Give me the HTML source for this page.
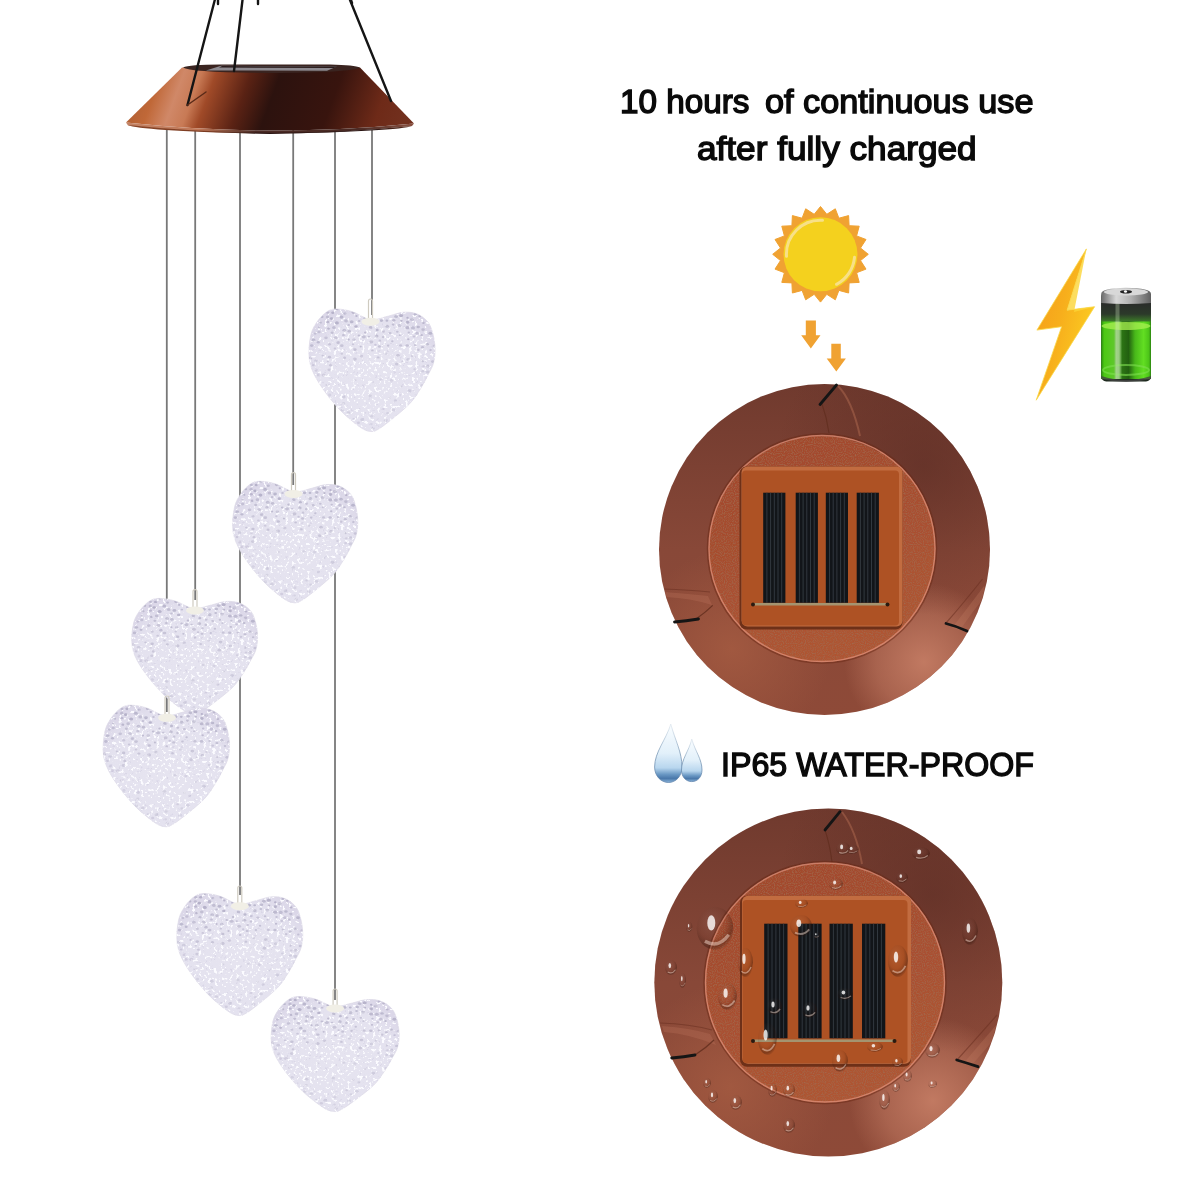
<!DOCTYPE html>
<html><head><meta charset="utf-8">
<style>
html,body{margin:0;padding:0;background:#fff;width:1200px;height:1200px;overflow:hidden}
#c{position:absolute;left:0;top:0}
.t{position:absolute;font-family:"Liberation Sans",sans-serif;color:#0a0a0a;white-space:nowrap;line-height:1}
</style></head><body>
<svg id="c" width="1200" height="1200" viewBox="0 0 1200 1200">
<defs>
  <linearGradient id="shade" gradientUnits="userSpaceOnUse" x1="120" y1="95" x2="378.7" y2="190.4">
    <stop offset="0" stop-color="#a85a30"/>
    <stop offset="0.115" stop-color="#c06838"/>
    <stop offset="0.19" stop-color="#d08868"/>
    <stop offset="0.25" stop-color="#c87a55"/>
    <stop offset="0.30" stop-color="#a04a28"/>
    <stop offset="0.42" stop-color="#5a2214"/>
    <stop offset="0.52" stop-color="#2c120e"/>
    <stop offset="0.73" stop-color="#38140e"/>
    <stop offset="0.90" stop-color="#6e2a18"/>
    <stop offset="1" stop-color="#72301e"/>
  </linearGradient>
  <path id="hp" d="M62.0 10.7 C68.2 11.3 75.3 7.9 80.7 6.7 C86.0 5.4 89.6 3.7 94.0 3.3 C98.4 3.0 103.3 3.2 107.3 4.7 C111.3 6.1 115.3 9.0 118.0 12.0 C120.7 15.0 122.0 18.2 123.3 22.7 C124.7 27.1 125.8 33.6 126.0 38.7 C126.2 43.8 125.8 48.9 124.7 53.3 C123.6 57.8 121.6 60.9 119.3 65.3 C117.1 69.8 114.4 75.1 111.3 80.0 C108.2 84.9 105.8 89.3 100.7 94.7 C95.6 100.0 86.2 107.6 80.7 112.0 C75.1 116.4 70.9 119.7 67.3 121.3 C63.8 123.0 62.2 122.7 59.3 122.0 C56.4 121.3 54.7 120.8 50.0 117.3 C45.3 113.9 37.3 107.6 31.3 101.3 C25.3 95.1 18.7 86.7 14.0 80.0 C9.3 73.3 5.7 67.1 3.3 61.3 C1.0 55.6 0.2 51.3 0.0 45.3 C-0.2 39.3 0.6 30.9 2.0 25.3 C3.4 19.8 6.0 15.8 8.7 12.0 C11.3 8.2 14.9 4.7 18.0 2.7 C21.1 0.7 23.1 0.0 27.3 0.0 C31.6 0.0 37.6 0.9 43.3 2.7 C49.1 4.4 55.8 10.0 62.0 10.7 Z"/>
  <radialGradient id="hg" cx="0.5" cy="0.55" r="0.6">
    <stop offset="0" stop-color="#e6e4f0"/>
    <stop offset="0.75" stop-color="#e4e2ef"/>
    <stop offset="1" stop-color="#dbd7e8"/>
  </radialGradient>
  <filter id="tex" x="-5%" y="-5%" width="110%" height="110%">
    <feTurbulence type="fractalNoise" baseFrequency="0.32" numOctaves="2" seed="7" result="n"/>
    <feColorMatrix in="n" type="matrix" values="0 0 0 0 0.70  0 0 0 0 0.68  0 0 0 0 0.80  10 0 0 0 -6.6" result="dots"/>
    <feColorMatrix in="n" type="matrix" values="0 0 0 0 0.97  0 0 0 0 0.97  0 0 0 0 1  0 10 0 0 -5.9" result="spark"/>
    <feComposite in="dots" in2="SourceGraphic" operator="in" result="d2"/>
    <feComposite in="spark" in2="SourceGraphic" operator="in" result="s2"/>
    <feMerge><feMergeNode in="SourceGraphic"/><feMergeNode in="d2"/><feMergeNode in="s2"/></feMerge>
  </filter>
  <linearGradient id="ring1" x1="0.5" y1="0" x2="0.5" y2="1">
    <stop offset="0" stop-color="#703a2e"/>
    <stop offset="0.5" stop-color="#884838"/>
    <stop offset="1" stop-color="#8e4a38"/>
  </linearGradient>
  <radialGradient id="ringHi" cx="0.8" cy="0.84" r="0.24">
    <stop offset="0" stop-color="#c47c64" stop-opacity="0.95"/>
    <stop offset="0.6" stop-color="#c47c64" stop-opacity="0.5"/>
    <stop offset="1" stop-color="#c47c64" stop-opacity="0"/>
  </radialGradient>
  <radialGradient id="ringHi2" cx="0.22" cy="0.8" r="0.3">
    <stop offset="0" stop-color="#a65c42" stop-opacity="0.8"/>
    <stop offset="1" stop-color="#a65c42" stop-opacity="0"/>
  </radialGradient>
  <radialGradient id="ringDk" cx="0.8" cy="0.25" r="0.45">
    <stop offset="0" stop-color="#5a2c24" stop-opacity="0.6"/>
    <stop offset="1" stop-color="#5a2c24" stop-opacity="0"/>
  </radialGradient>
  <linearGradient id="inner1" x1="0.3" y1="0" x2="0.7" y2="1">
    <stop offset="0" stop-color="#a2482c"/>
    <stop offset="1" stop-color="#b05634"/>
  </linearGradient>
  <linearGradient id="bolt" x1="0" y1="0" x2="1" y2="0.6">
    <stop offset="0" stop-color="#f59a1a"/>
    <stop offset="0.5" stop-color="#f7ae1c"/>
    <stop offset="1" stop-color="#fccf22"/>
  </linearGradient>
  <linearGradient id="liquid" x1="0" y1="0" x2="1" y2="0">
    <stop offset="0" stop-color="#2a8a10"/>
    <stop offset="0.06" stop-color="#4cc814"/>
    <stop offset="0.25" stop-color="#5ec82a"/>
    <stop offset="0.3" stop-color="#8cc870"/>
    <stop offset="0.38" stop-color="#7ab860"/>
    <stop offset="0.42" stop-color="#2c7414"/>
    <stop offset="0.55" stop-color="#226010"/>
    <stop offset="0.68" stop-color="#48b81a"/>
    <stop offset="0.85" stop-color="#62de22"/>
    <stop offset="0.96" stop-color="#4cc418"/>
    <stop offset="1" stop-color="#2a8010"/>
  </linearGradient>
  <linearGradient id="glass" x1="0" y1="0" x2="0" y2="1">
    <stop offset="0" stop-color="#2a2c2a"/>
    <stop offset="0.6" stop-color="#2c3a2a"/>
    <stop offset="1" stop-color="#3c7a28"/>
  </linearGradient>
  <linearGradient id="cap" x1="0" y1="0" x2="1" y2="0">
    <stop offset="0" stop-color="#6a6a6a"/>
    <stop offset="0.3" stop-color="#d8d8d8"/>
    <stop offset="0.6" stop-color="#b0b0b0"/>
    <stop offset="1" stop-color="#606060"/>
  </linearGradient>
  <linearGradient id="drop" x1="0" y1="0" x2="0" y2="1">
    <stop offset="0" stop-color="#fafdff"/>
    <stop offset="0.5" stop-color="#e2f0fa"/>
    <stop offset="0.75" stop-color="#b8d6ee"/>
    <stop offset="0.86" stop-color="#6a98c4"/>
    <stop offset="0.93" stop-color="#4a78aa"/>
    <stop offset="1" stop-color="#8ab4da"/>
  </linearGradient>
  <linearGradient id="dropS" x1="0" y1="0" x2="0" y2="1">
    <stop offset="0" stop-color="#8aa6c0" stop-opacity="0.2"/>
    <stop offset="0.5" stop-color="#6f8fae" stop-opacity="0.9"/>
    <stop offset="1" stop-color="#5a7ea8" stop-opacity="0.9"/>
  </linearGradient>
  <clipPath id="clipC1"><circle cx="824.5" cy="549.5" r="165"/></clipPath>
  <clipPath id="clipC2"><circle cx="828.3" cy="982.5" r="173.5"/></clipPath>
  <clipPath id="hclip"><use href="#hp"/></clipPath>
  <g id="hdots"><ellipse cx="114.4" cy="13.9" rx="1.3" ry="1.1" fill="#a9a5bf" opacity="0.65"/><ellipse cx="17.6" cy="75.9" rx="1.1" ry="0.9" fill="#a9a5bf" opacity="0.34"/><ellipse cx="18.5" cy="8.0" rx="1.6" ry="1.3" fill="#a9a5bf" opacity="0.56"/><ellipse cx="46.5" cy="71.2" rx="1.1" ry="0.9" fill="#a9a5bf" opacity="0.26"/><ellipse cx="121.3" cy="24.2" rx="1.9" ry="1.5" fill="#a9a5bf" opacity="0.67"/><ellipse cx="98.5" cy="13.3" rx="1.8" ry="1.5" fill="#a9a5bf" opacity="0.72"/><ellipse cx="22.5" cy="9.6" rx="1.7" ry="1.4" fill="#a9a5bf" opacity="0.78"/><ellipse cx="63.4" cy="41.6" rx="1.3" ry="1.1" fill="#a9a5bf" opacity="0.52"/><ellipse cx="82.5" cy="71.4" rx="1.6" ry="1.3" fill="#a9a5bf" opacity="0.27"/><ellipse cx="80.9" cy="88.6" rx="1.2" ry="1.0" fill="#a9a5bf" opacity="0.29"/><ellipse cx="59.9" cy="27.8" rx="1.2" ry="1.0" fill="#a9a5bf" opacity="0.52"/><ellipse cx="23.1" cy="23.8" rx="1.5" ry="1.2" fill="#a9a5bf" opacity="0.55"/><ellipse cx="77.9" cy="11.7" rx="1.4" ry="1.1" fill="#a9a5bf" opacity="0.67"/><ellipse cx="46.9" cy="17.5" rx="1.6" ry="1.3" fill="#a9a5bf" opacity="0.72"/><ellipse cx="44.6" cy="109.9" rx="1.2" ry="1.0" fill="#a9a5bf" opacity="0.30"/><ellipse cx="78.1" cy="17.3" rx="1.9" ry="1.5" fill="#a9a5bf" opacity="0.59"/><ellipse cx="54.8" cy="27.8" rx="2.0" ry="1.6" fill="#a9a5bf" opacity="0.53"/><ellipse cx="99.3" cy="30.2" rx="1.2" ry="1.0" fill="#a9a5bf" opacity="0.63"/><ellipse cx="4.6" cy="31.0" rx="1.9" ry="1.5" fill="#a9a5bf" opacity="0.61"/><ellipse cx="108.2" cy="24.2" rx="1.8" ry="1.5" fill="#a9a5bf" opacity="0.49"/><ellipse cx="74.4" cy="99.9" rx="1.3" ry="1.0" fill="#a9a5bf" opacity="0.33"/><ellipse cx="100.6" cy="81.6" rx="1.8" ry="1.4" fill="#a9a5bf" opacity="0.35"/><ellipse cx="90.5" cy="16.6" rx="1.9" ry="1.5" fill="#a9a5bf" opacity="0.55"/><ellipse cx="13.7" cy="46.6" rx="1.2" ry="0.9" fill="#a9a5bf" opacity="0.45"/><ellipse cx="47.5" cy="6.9" rx="1.2" ry="1.0" fill="#a9a5bf" opacity="0.71"/><ellipse cx="17.0" cy="28.8" rx="1.8" ry="1.4" fill="#a9a5bf" opacity="0.49"/><ellipse cx="84.8" cy="11.2" rx="1.6" ry="1.3" fill="#a9a5bf" opacity="0.59"/><ellipse cx="92.1" cy="6.6" rx="2.0" ry="1.6" fill="#a9a5bf" opacity="0.73"/><ellipse cx="84.5" cy="100.9" rx="1.7" ry="1.3" fill="#a9a5bf" opacity="0.28"/><ellipse cx="50.2" cy="11.9" rx="1.3" ry="1.0" fill="#a9a5bf" opacity="0.54"/><ellipse cx="113.0" cy="76.2" rx="1.5" ry="1.2" fill="#a9a5bf" opacity="0.26"/><ellipse cx="19.6" cy="19.6" rx="1.4" ry="1.2" fill="#a9a5bf" opacity="0.68"/><ellipse cx="20.5" cy="35.3" rx="1.5" ry="1.2" fill="#a9a5bf" opacity="0.42"/><ellipse cx="99.0" cy="50.5" rx="1.6" ry="1.3" fill="#a9a5bf" opacity="0.49"/><ellipse cx="62.4" cy="115.1" rx="1.3" ry="1.1" fill="#a9a5bf" opacity="0.25"/><ellipse cx="51.7" cy="37.6" rx="1.1" ry="0.9" fill="#a9a5bf" opacity="0.58"/><ellipse cx="67.5" cy="10.4" rx="1.2" ry="1.0" fill="#a9a5bf" opacity="0.67"/><ellipse cx="105.0" cy="27.5" rx="1.4" ry="1.1" fill="#a9a5bf" opacity="0.47"/><ellipse cx="39.7" cy="16.0" rx="1.3" ry="1.1" fill="#a9a5bf" opacity="0.53"/><ellipse cx="6.1" cy="24.6" rx="1.4" ry="1.1" fill="#a9a5bf" opacity="0.49"/><ellipse cx="103.1" cy="47.0" rx="1.2" ry="0.9" fill="#a9a5bf" opacity="0.39"/><ellipse cx="46.0" cy="40.6" rx="1.6" ry="1.3" fill="#a9a5bf" opacity="0.53"/><ellipse cx="92.3" cy="11.7" rx="1.3" ry="1.0" fill="#a9a5bf" opacity="0.70"/><ellipse cx="49.9" cy="26.5" rx="1.3" ry="1.0" fill="#a9a5bf" opacity="0.57"/><ellipse cx="105.6" cy="60.3" rx="1.3" ry="1.0" fill="#a9a5bf" opacity="0.31"/><ellipse cx="74.5" cy="22.7" rx="1.4" ry="1.1" fill="#a9a5bf" opacity="0.49"/><ellipse cx="34.9" cy="88.1" rx="1.8" ry="1.4" fill="#a9a5bf" opacity="0.32"/><ellipse cx="69.1" cy="48.4" rx="1.5" ry="1.2" fill="#a9a5bf" opacity="0.38"/><ellipse cx="112.6" cy="26.2" rx="1.3" ry="1.1" fill="#a9a5bf" opacity="0.59"/><ellipse cx="114.0" cy="20.6" rx="1.8" ry="1.4" fill="#a9a5bf" opacity="0.54"/><ellipse cx="23.8" cy="3.7" rx="1.6" ry="1.3" fill="#a9a5bf" opacity="0.73"/><ellipse cx="60.5" cy="12.4" rx="1.2" ry="1.0" fill="#a9a5bf" opacity="0.55"/><ellipse cx="13.1" cy="7.9" rx="1.4" ry="1.1" fill="#a9a5bf" opacity="0.66"/><ellipse cx="86.4" cy="91.4" rx="1.5" ry="1.2" fill="#a9a5bf" opacity="0.30"/><ellipse cx="91.6" cy="36.4" rx="1.5" ry="1.2" fill="#a9a5bf" opacity="0.48"/><ellipse cx="9.3" cy="33.3" rx="1.5" ry="1.2" fill="#a9a5bf" opacity="0.61"/><ellipse cx="21.5" cy="56.3" rx="1.4" ry="1.2" fill="#a9a5bf" opacity="0.43"/><ellipse cx="98.4" cy="18.7" rx="2.0" ry="1.6" fill="#a9a5bf" opacity="0.65"/><ellipse cx="11.4" cy="13.7" rx="1.4" ry="1.1" fill="#a9a5bf" opacity="0.61"/><ellipse cx="61.1" cy="86.8" rx="1.8" ry="1.4" fill="#a9a5bf" opacity="0.29"/><ellipse cx="7.1" cy="61.6" rx="1.4" ry="1.2" fill="#a9a5bf" opacity="0.33"/><ellipse cx="2.7" cy="36.6" rx="1.7" ry="1.4" fill="#a9a5bf" opacity="0.58"/><ellipse cx="125.5" cy="37.1" rx="1.9" ry="1.6" fill="#a9a5bf" opacity="0.42"/><ellipse cx="49.4" cy="113.7" rx="1.6" ry="1.3" fill="#a9a5bf" opacity="0.33"/><ellipse cx="62.8" cy="107.2" rx="1.6" ry="1.3" fill="#a9a5bf" opacity="0.26"/><ellipse cx="32.8" cy="36.7" rx="1.8" ry="1.4" fill="#a9a5bf" opacity="0.50"/><ellipse cx="114.5" cy="57.3" rx="1.3" ry="1.0" fill="#a9a5bf" opacity="0.34"/><ellipse cx="106.2" cy="36.1" rx="1.3" ry="1.1" fill="#a9a5bf" opacity="0.48"/><ellipse cx="42.7" cy="12.7" rx="1.9" ry="1.5" fill="#a9a5bf" opacity="0.66"/><ellipse cx="113.8" cy="62.3" rx="1.5" ry="1.2" fill="#a9a5bf" opacity="0.31"/><ellipse cx="14.6" cy="66.1" rx="2.0" ry="1.6" fill="#a9a5bf" opacity="0.33"/><ellipse cx="123.6" cy="52.6" rx="1.6" ry="1.3" fill="#a9a5bf" opacity="0.46"/><ellipse cx="20.7" cy="85.9" rx="1.6" ry="1.3" fill="#a9a5bf" opacity="0.27"/><ellipse cx="20.2" cy="60.8" rx="1.8" ry="1.4" fill="#a9a5bf" opacity="0.39"/><ellipse cx="106.3" cy="5.3" rx="1.5" ry="1.2" fill="#a9a5bf" opacity="0.60"/><ellipse cx="29.1" cy="33.7" rx="1.7" ry="1.4" fill="#a9a5bf" opacity="0.53"/><ellipse cx="87.1" cy="7.6" rx="1.9" ry="1.5" fill="#a9a5bf" opacity="0.59"/><ellipse cx="28.0" cy="0.4" rx="1.4" ry="1.1" fill="#a9a5bf" opacity="0.78"/><ellipse cx="56.3" cy="23.5" rx="1.3" ry="1.1" fill="#a9a5bf" opacity="0.62"/><ellipse cx="76.9" cy="44.6" rx="1.4" ry="1.1" fill="#a9a5bf" opacity="0.37"/><ellipse cx="18.9" cy="52.3" rx="1.1" ry="0.9" fill="#a9a5bf" opacity="0.41"/><ellipse cx="10.1" cy="18.5" rx="1.2" ry="0.9" fill="#a9a5bf" opacity="0.63"/><ellipse cx="68.2" cy="21.0" rx="1.5" ry="1.2" fill="#a9a5bf" opacity="0.66"/><ellipse cx="9.0" cy="66.0" rx="1.7" ry="1.4" fill="#a9a5bf" opacity="0.33"/><ellipse cx="37.1" cy="11.8" rx="2.0" ry="1.6" fill="#a9a5bf" opacity="0.56"/><ellipse cx="110.7" cy="7.2" rx="1.4" ry="1.1" fill="#a9a5bf" opacity="0.62"/><ellipse cx="4.3" cy="56.2" rx="1.4" ry="1.1" fill="#a9a5bf" opacity="0.41"/><ellipse cx="78.7" cy="104.2" rx="1.5" ry="1.2" fill="#a9a5bf" opacity="0.28"/><ellipse cx="35.3" cy="21.3" rx="1.9" ry="1.6" fill="#a9a5bf" opacity="0.57"/><ellipse cx="39.6" cy="30.5" rx="1.2" ry="1.0" fill="#a9a5bf" opacity="0.63"/><ellipse cx="35.9" cy="4.5" rx="1.5" ry="1.2" fill="#a9a5bf" opacity="0.60"/><ellipse cx="74.2" cy="28.1" rx="1.4" ry="1.1" fill="#a9a5bf" opacity="0.50"/><ellipse cx="10.0" cy="23.0" rx="1.6" ry="1.3" fill="#a9a5bf" opacity="0.50"/><ellipse cx="61.6" cy="18.4" rx="1.7" ry="1.4" fill="#a9a5bf" opacity="0.61"/><ellipse cx="109.2" cy="18.0" rx="1.7" ry="1.3" fill="#a9a5bf" opacity="0.66"/><ellipse cx="32.9" cy="44.7" rx="1.2" ry="1.0" fill="#a9a5bf" opacity="0.39"/><ellipse cx="45.0" cy="30.7" rx="1.7" ry="1.3" fill="#a9a5bf" opacity="0.53"/><ellipse cx="113.7" cy="52.2" rx="1.3" ry="1.1" fill="#a9a5bf" opacity="0.48"/><ellipse cx="70.4" cy="37.5" rx="1.5" ry="1.2" fill="#a9a5bf" opacity="0.50"/><ellipse cx="18.7" cy="3.6" rx="1.5" ry="1.2" fill="#a9a5bf" opacity="0.58"/><ellipse cx="27.9" cy="13.9" rx="2.0" ry="1.6" fill="#a9a5bf" opacity="0.74"/><ellipse cx="83.3" cy="32.2" rx="1.2" ry="1.0" fill="#a9a5bf" opacity="0.54"/><ellipse cx="89.0" cy="46.3" rx="1.8" ry="1.4" fill="#a9a5bf" opacity="0.47"/><ellipse cx="118.9" cy="57.0" rx="2.0" ry="1.6" fill="#a9a5bf" opacity="0.44"/><ellipse cx="88.3" cy="22.7" rx="1.3" ry="1.0" fill="#a9a5bf" opacity="0.53"/><ellipse cx="66.4" cy="35.8" rx="1.2" ry="1.0" fill="#a9a5bf" opacity="0.44"/><ellipse cx="55.7" cy="9.2" rx="1.3" ry="1.1" fill="#a9a5bf" opacity="0.73"/><ellipse cx="70.9" cy="31.6" rx="1.3" ry="1.1" fill="#a9a5bf" opacity="0.46"/><ellipse cx="20.4" cy="48.2" rx="1.7" ry="1.4" fill="#a9a5bf" opacity="0.49"/><ellipse cx="18.8" cy="13.0" rx="1.5" ry="1.2" fill="#a9a5bf" opacity="0.64"/><ellipse cx="45.8" cy="50.1" rx="2.0" ry="1.6" fill="#a9a5bf" opacity="0.45"/><ellipse cx="67.6" cy="26.9" rx="1.9" ry="1.5" fill="#a9a5bf" opacity="0.56"/><ellipse cx="62.3" cy="32.8" rx="2.0" ry="1.6" fill="#a9a5bf" opacity="0.47"/><ellipse cx="71.5" cy="70.5" rx="1.3" ry="1.1" fill="#a9a5bf" opacity="0.29"/><ellipse cx="34.4" cy="26.1" rx="1.5" ry="1.2" fill="#a9a5bf" opacity="0.47"/><ellipse cx="81.1" cy="24.1" rx="1.5" ry="1.2" fill="#a9a5bf" opacity="0.48"/><ellipse cx="24.9" cy="18.6" rx="1.8" ry="1.5" fill="#a9a5bf" opacity="0.54"/><ellipse cx="109.3" cy="40.7" rx="1.5" ry="1.2" fill="#a9a5bf" opacity="0.40"/><ellipse cx="72.4" cy="11.6" rx="1.7" ry="1.4" fill="#a9a5bf" opacity="0.67"/><ellipse cx="35.6" cy="48.8" rx="1.5" ry="1.2" fill="#a9a5bf" opacity="0.47"/><ellipse cx="98.2" cy="36.5" rx="1.7" ry="1.3" fill="#a9a5bf" opacity="0.54"/><ellipse cx="98.5" cy="8.8" rx="1.2" ry="1.0" fill="#a9a5bf" opacity="0.74"/><ellipse cx="99.8" cy="23.5" rx="1.2" ry="0.9" fill="#a9a5bf" opacity="0.54"/><ellipse cx="113.5" cy="38.2" rx="1.5" ry="1.2" fill="#a9a5bf" opacity="0.55"/><ellipse cx="118.9" cy="63.0" rx="2.0" ry="1.6" fill="#a9a5bf" opacity="0.35"/><ellipse cx="53.2" cy="110.5" rx="1.9" ry="1.5" fill="#a9a5bf" opacity="0.32"/><ellipse cx="39.5" cy="103.7" rx="1.8" ry="1.4" fill="#a9a5bf" opacity="0.29"/><ellipse cx="44.5" cy="3.3" rx="1.9" ry="1.6" fill="#a9a5bf" opacity="0.64"/><ellipse cx="90.8" cy="26.2" rx="1.1" ry="0.9" fill="#a9a5bf" opacity="0.49"/><ellipse cx="40.2" cy="22.2" rx="1.7" ry="1.4" fill="#a9a5bf" opacity="0.56"/><ellipse cx="1.2" cy="49.2" rx="1.7" ry="1.4" fill="#a9a5bf" opacity="0.45"/><ellipse cx="6.9" cy="51.8" rx="1.8" ry="1.4" fill="#a9a5bf" opacity="0.35"/><ellipse cx="76.7" cy="111.4" rx="1.9" ry="1.5" fill="#a9a5bf" opacity="0.27"/><ellipse cx="79.1" cy="36.6" rx="1.3" ry="1.1" fill="#a9a5bf" opacity="0.52"/><ellipse cx="25.9" cy="39.6" rx="1.3" ry="1.0" fill="#a9a5bf" opacity="0.44"/><ellipse cx="52.5" cy="47.1" rx="1.7" ry="1.3" fill="#a9a5bf" opacity="0.41"/><ellipse cx="93.4" cy="52.5" rx="1.1" ry="0.9" fill="#a9a5bf" opacity="0.34"/><ellipse cx="33.0" cy="101.3" rx="1.6" ry="1.3" fill="#a9a5bf" opacity="0.30"/><ellipse cx="118.3" cy="35.4" rx="1.7" ry="1.4" fill="#a9a5bf" opacity="0.59"/><ellipse cx="84.1" cy="15.5" rx="1.4" ry="1.1" fill="#a9a5bf" opacity="0.59"/><ellipse cx="44.0" cy="35.2" rx="1.2" ry="1.0" fill="#a9a5bf" opacity="0.44"/><ellipse cx="92.3" cy="77.3" rx="1.2" ry="0.9" fill="#a9a5bf" opacity="0.31"/><ellipse cx="64.0" cy="119.2" rx="1.7" ry="1.3" fill="#a9a5bf" opacity="0.28"/><ellipse cx="26.7" cy="28.7" rx="1.9" ry="1.5" fill="#a9a5bf" opacity="0.47"/><ellipse cx="102.9" cy="10.2" rx="1.9" ry="1.5" fill="#a9a5bf" opacity="0.58"/><ellipse cx="87.8" cy="54.9" rx="1.9" ry="1.5" fill="#a9a5bf" opacity="0.42"/><ellipse cx="32.5" cy="8.1" rx="2.0" ry="1.6" fill="#a9a5bf" opacity="0.66"/><ellipse cx="34.6" cy="94.3" rx="1.5" ry="1.2" fill="#a9a5bf" opacity="0.26"/><ellipse cx="104.0" cy="18.9" rx="2.0" ry="1.6" fill="#a9a5bf" opacity="0.57"/><ellipse cx="121.6" cy="41.1" rx="1.2" ry="1.0" fill="#a9a5bf" opacity="0.52"/></g>
  <radialGradient id="dropG" cx="0.4" cy="0.35" r="0.65">
    <stop offset="0" stop-color="#ffffff" stop-opacity="0.06"/>
    <stop offset="0.6" stop-color="#3a1a10" stop-opacity="0.06"/>
    <stop offset="0.9" stop-color="#2a1008" stop-opacity="0.35"/>
    <stop offset="1" stop-color="#2a1008" stop-opacity="0.15"/>
  </radialGradient>
  <filter id="speck" x="0" y="0" width="100%" height="100%">
    <feTurbulence type="fractalNoise" baseFrequency="0.9" numOctaves="1" seed="3" result="n"/>
    <feColorMatrix in="n" type="matrix" values="0 0 0 0 0.35  0 0 0 0 0.15  0 0 0 0 0.08  0 0 0 -2.2 1.25" result="d"/>
    <feComposite in="d" in2="SourceGraphic" operator="in" result="d2"/>
    <feMerge><feMergeNode in="SourceGraphic"/><feMergeNode in="d2"/></feMerge>
  </filter>
  <linearGradient id="rim" x1="0" y1="0" x2="1" y2="0">
    <stop offset="0" stop-color="#c48466"/>
    <stop offset="0.25" stop-color="#c07858"/>
    <stop offset="0.45" stop-color="#4a2a24"/>
    <stop offset="0.8" stop-color="#4a2a24"/>
    <stop offset="1" stop-color="#8a5040"/>
  </linearGradient>
  <linearGradient id="rim2" x1="0" y1="0" x2="1" y2="0">
    <stop offset="0" stop-color="#8a4628"/>
    <stop offset="0.3" stop-color="#7a3a20"/>
    <stop offset="0.45" stop-color="#2a1412"/>
    <stop offset="0.85" stop-color="#2a1412"/>
    <stop offset="1" stop-color="#5a2a1a"/>
  </linearGradient>
</defs>

<!-- strings -->
<g stroke="#787878" stroke-width="1.8">
  <line x1="166.8" y1="130" x2="166.8" y2="712"/>
  <line x1="195.2" y1="130" x2="195.2" y2="600"/>
  <line x1="240" y1="130" x2="240" y2="895"/>
  <line x1="293.2" y1="130" x2="293.2" y2="485"/>
  <line x1="335" y1="130" x2="335" y2="1000"/>
  <line x1="372" y1="130" x2="372" y2="315"/>
</g>

<!-- lampshade -->
<path d="M182 67.5 L126 122.5 Q270 138 414 123.5 L360 67.5 Z" fill="url(#shade)"/>
<path d="M126 122.5 Q270 138 414 123.5 L412 126 Q270 141 128 125.5 Z" fill="url(#rim)"/>
<path d="M128 125 Q270 140 412 126 Q400 131 270 134 Q140 131 128 125 Z" fill="url(#rim2)"/>
<path d="M183 67.5 Q190 64 230 64.5 L330 64.5 Q355 65 360 67.5 Q352 72.5 270 73 Q190 72.5 183 67.5 Z" fill="#3a2420"/>
<path d="M206 70.5 L221 65.8 L337 66.5 L327 70.8 Z" fill="#8d8a90"/>
<path d="M222 66 L337 66.6 L334 68 L219 67.5 Z" fill="#2a1c1c"/>

<!-- hanging wires -->
<g stroke="#151515" stroke-width="2.4" fill="none" stroke-linecap="round">
  <line x1="187.5" y1="105" x2="214.8" y2="0"/>
  <line x1="187.5" y1="105" x2="206" y2="92" stroke="#5a2a18" stroke-width="1.5"/>
  <line x1="234" y1="71" x2="242.5" y2="0"/>
  <line x1="391" y1="101" x2="350" y2="0"/>
  <line x1="218" y1="0" x2="218" y2="4"/>
  <line x1="258" y1="0" x2="258" y2="4"/>
  <line x1="351" y1="0" x2="352" y2="3"/>
</g>

<!-- hearts -->
<g transform="translate(309 309) scale(1.0000 1.0000)"><use href="#hp" fill="url(#hg)" stroke="#dcd9e6" stroke-width="0.7" filter="url(#tex)"/><g clip-path="url(#hclip)"><use href="#hdots"/></g></g>
<rect x="368.5" y="299.0" width="4" height="22.7" rx="2" fill="none" stroke="#cfcbc0" stroke-width="1.2"/>
<ellipse cx="370.5" cy="321.7" rx="9" ry="4" fill="#f1efe6"/>
<g transform="translate(232.7 481.3) scale(0.9921 0.9919)"><use href="#hp" fill="url(#hg)" stroke="#dcd9e6" stroke-width="0.7" filter="url(#tex)"/><g clip-path="url(#hclip)"><use href="#hdots"/></g></g>
<rect x="291.5" y="472.7" width="4" height="21.2" rx="2" fill="none" stroke="#cfcbc0" stroke-width="1.2"/>
<ellipse cx="293.5" cy="493.9" rx="9" ry="4" fill="#f1efe6"/>
<g transform="translate(131.8 598.4) scale(0.9976 0.9431)"><use href="#hp" fill="url(#hg)" stroke="#dcd9e6" stroke-width="0.7" filter="url(#tex)"/><g clip-path="url(#hclip)"><use href="#hdots"/></g></g>
<rect x="193.0" y="589.7" width="4" height="20.8" rx="2" fill="none" stroke="#cfcbc0" stroke-width="1.2"/>
<ellipse cx="195.0" cy="610.5" rx="9" ry="4" fill="#f1efe6"/>
<g transform="translate(103.2 705.2) scale(1.0016 0.9919)"><use href="#hp" fill="url(#hg)" stroke="#dcd9e6" stroke-width="0.7" filter="url(#tex)"/><g clip-path="url(#hclip)"><use href="#hdots"/></g></g>
<rect x="165.0" y="696.0" width="4" height="21.8" rx="2" fill="none" stroke="#cfcbc0" stroke-width="1.2"/>
<ellipse cx="167.0" cy="717.8" rx="9" ry="4" fill="#f1efe6"/>
<g transform="translate(176.9 893.6) scale(0.9984 0.9951)"><use href="#hp" fill="url(#hg)" stroke="#dcd9e6" stroke-width="0.7" filter="url(#tex)"/><g clip-path="url(#hclip)"><use href="#hdots"/></g></g>
<rect x="237.8" y="886.0" width="4" height="20.2" rx="2" fill="none" stroke="#cfcbc0" stroke-width="1.2"/>
<ellipse cx="239.8" cy="906.2" rx="9" ry="4" fill="#f1efe6"/>
<g transform="translate(271.2 996.5) scale(1.0150 0.9390)"><use href="#hp" fill="url(#hg)" stroke="#dcd9e6" stroke-width="0.7" filter="url(#tex)"/><g clip-path="url(#hclip)"><use href="#hdots"/></g></g>
<rect x="333.1" y="989.0" width="4" height="19.5" rx="2" fill="none" stroke="#cfcbc0" stroke-width="1.2"/>
<ellipse cx="335.1" cy="1008.5" rx="9" ry="4" fill="#f1efe6"/>

<!-- sun -->
<polygon points="820.5,206.5 826.8,214.3 835.3,208.8 838.9,218.2 848.6,215.6 849.1,225.7 859.2,226.2 856.6,235.9 866.0,239.5 860.5,248.0 868.3,254.3 860.5,260.6 866.0,269.1 856.6,272.7 859.2,282.4 849.1,282.9 848.6,293.0 838.9,290.4 835.3,299.8 826.8,294.3 820.5,302.1 814.2,294.3 805.7,299.8 802.1,290.4 792.4,293.0 791.9,282.9 781.8,282.4 784.4,272.7 775.0,269.1 780.5,260.6 772.7,254.3 780.5,248.0 775.0,239.5 784.4,235.9 781.8,226.2 791.9,225.7 792.4,215.6 802.1,218.2 805.7,208.8 814.2,214.3" fill="#f0a232" stroke="#f0a232" stroke-width="1" stroke-linejoin="round"/>
<circle cx="820.5" cy="254.3" r="37" fill="#f4d11e"/>
<path d="M822.5 220.3 A34 34 0 0 0 786.5 256.3" stroke="#f8e39a" stroke-width="3" fill="none" stroke-linecap="round" opacity="0.85"/>
<path d="M854.5 257.3 A34 34 0 0 1 836.5 284.3" stroke="#f8e39a" stroke-width="3" fill="none" stroke-linecap="round" opacity="0.85"/>

<!-- arrows -->
<path d="M805.8 320.6 h10.1 v14.7 h4.6 l-9.65 13.1 l-9.65 -13.1 h4.6 Z" fill="#f0a232"/>
<path d="M831.3 343.8 h9.5 v14.6 h5.1 l-9.6 13.1 l-9.6 -13.1 h4.6 Z" fill="#f0a232"/>

<!-- lightning -->
<path d="M1086.4 248.9 L1036.9 330.1 L1061.6 326.7 L1036.2 400.2 L1094.6 306.7 L1067.1 310.2 Z" fill="url(#bolt)" stroke="#f9d84a" stroke-width="0.8" stroke-linejoin="miter"/>
<path d="M1086.4 248.9 L1067.1 310.2 L1094.6 306.7 L1074 312 Z" fill="#fbd437" opacity="0.8"/>
<!-- battery -->
<rect x="1101.2" y="292" width="49.8" height="89.5" rx="5" fill="#1e2a1e"/>
<rect x="1101.2" y="321" width="49.8" height="58" fill="url(#liquid)"/>
<ellipse cx="1126" cy="326" rx="24.5" ry="4" fill="#a8f050" opacity="0.75"/>
<ellipse cx="1126" cy="370" rx="23" ry="5" fill="none" stroke="#7ee050" stroke-width="2" opacity="0.6"/>
<rect x="1101.2" y="303" width="49.8" height="18.5" fill="url(#glass)"/>
<rect x="1115.5" y="303" width="4" height="76" fill="#d8f0c8" opacity="0.3"/>
<path d="M1101.2 294 Q1101.2 288 1126 287.8 Q1151 288 1151 294 L1151 303 Q1126 305 1101.2 303 Z" fill="url(#cap)"/>
<ellipse cx="1126" cy="292" rx="22" ry="3.5" fill="#d8d8d8"/>
<ellipse cx="1126" cy="291.8" rx="6" ry="1.8" fill="#202020"/>
<ellipse cx="1125.5" cy="291.5" rx="1.6" ry="1.2" fill="#ffffff"/>
<path d="M1101.2 376 Q1126 384 1151 376 L1151 379 Q1126 385 1101.2 379 Z" fill="#444" opacity="0.8"/>

<!-- circle 1 -->
<circle cx="824.5" cy="549.5" r="165.5" fill="url(#ring1)"/>
<circle cx="824.5" cy="549.5" r="165.5" fill="url(#ringHi2)"/>
<circle cx="824.5" cy="549.5" r="165.5" fill="url(#ringHi)"/>
<circle cx="824.5" cy="549.5" r="165.5" fill="url(#ringDk)"/>
<g clip-path="url(#clipC1)">
<path d="M663 589 Q690 590 710 592" stroke="#6a3020" stroke-width="1.2" fill="none" opacity="0.55"/>
<path d="M664 592 Q690 594 708 596 L712 605 Q690 598 666 597 Z" fill="#b87058" opacity="0.35"/>
<path d="M696.7 618.5 Q706 612 712.7 605.4" stroke="#5a2818" stroke-width="1.3" fill="none" opacity="0.7"/>
<path d="M982.5 579 Q962 605 946 623" stroke="#6a3020" stroke-width="1.2" fill="none" opacity="0.55"/>
<path d="M984 586 Q966 610 952 628 L960 630 Q972 612 987 594 Z" fill="#c07a60" opacity="0.3"/>
<path d="M822 404 Q827 418 829 433" stroke="#5a2818" stroke-width="1.1" fill="none" opacity="0.55"/>
<path d="M838 386 Q852 400 860 436" stroke="#b06a50" stroke-width="2" fill="none" opacity="0.5"/>
</g>
<circle cx="822" cy="548.5" r="113.5" fill="url(#inner1)" filter="url(#speck)"/>
<path d="M722 495 A113 113 0 0 1 880 452" stroke="#5a2a1c" stroke-width="1.2" fill="none" opacity="0.45"/>
<circle cx="822" cy="548.5" r="114.5" fill="none" stroke="#6a2814" stroke-width="1.5" opacity="0.5"/>
<circle cx="822" cy="548.5" r="113" fill="none" stroke="#e0907a" stroke-width="1.4" opacity="0.75"/>
<rect x="739.5" y="466.5" width="163" height="163" rx="7" fill="#6e3018"/>
<rect x="741.5" y="466.5" width="161" height="160" rx="6" fill="#c26c40"/>
<rect x="742" y="470.5" width="157" height="155" rx="4" fill="#ae5224"/>
<rect x="763.2" y="492.7" width="22.2" height="110.1" fill="#121519"/>
<line x1="766.9" y1="492.7" x2="766.9" y2="602.8" stroke="#3a4149" stroke-width="0.8"/>
<line x1="770.6" y1="492.7" x2="770.6" y2="602.8" stroke="#3a4149" stroke-width="0.8"/>
<line x1="774.3" y1="492.7" x2="774.3" y2="602.8" stroke="#3a4149" stroke-width="0.8"/>
<line x1="778.0" y1="492.7" x2="778.0" y2="602.8" stroke="#3a4149" stroke-width="0.8"/>
<line x1="781.7" y1="492.7" x2="781.7" y2="602.8" stroke="#3a4149" stroke-width="0.8"/>
<rect x="795.7" y="492.7" width="22.2" height="110.1" fill="#121519"/>
<line x1="799.4" y1="492.7" x2="799.4" y2="602.8" stroke="#3a4149" stroke-width="0.8"/>
<line x1="803.1" y1="492.7" x2="803.1" y2="602.8" stroke="#3a4149" stroke-width="0.8"/>
<line x1="806.8" y1="492.7" x2="806.8" y2="602.8" stroke="#3a4149" stroke-width="0.8"/>
<line x1="810.5" y1="492.7" x2="810.5" y2="602.8" stroke="#3a4149" stroke-width="0.8"/>
<line x1="814.2" y1="492.7" x2="814.2" y2="602.8" stroke="#3a4149" stroke-width="0.8"/>
<rect x="825.8" y="492.7" width="22.2" height="110.1" fill="#121519"/>
<line x1="829.5" y1="492.7" x2="829.5" y2="602.8" stroke="#3a4149" stroke-width="0.8"/>
<line x1="833.2" y1="492.7" x2="833.2" y2="602.8" stroke="#3a4149" stroke-width="0.8"/>
<line x1="836.9" y1="492.7" x2="836.9" y2="602.8" stroke="#3a4149" stroke-width="0.8"/>
<line x1="840.6" y1="492.7" x2="840.6" y2="602.8" stroke="#3a4149" stroke-width="0.8"/>
<line x1="844.3" y1="492.7" x2="844.3" y2="602.8" stroke="#3a4149" stroke-width="0.8"/>
<rect x="856.7" y="492.7" width="22.2" height="110.1" fill="#121519"/>
<line x1="860.4" y1="492.7" x2="860.4" y2="602.8" stroke="#3a4149" stroke-width="0.8"/>
<line x1="864.1" y1="492.7" x2="864.1" y2="602.8" stroke="#3a4149" stroke-width="0.8"/>
<line x1="867.8" y1="492.7" x2="867.8" y2="602.8" stroke="#3a4149" stroke-width="0.8"/>
<line x1="871.5" y1="492.7" x2="871.5" y2="602.8" stroke="#3a4149" stroke-width="0.8"/>
<line x1="875.2" y1="492.7" x2="875.2" y2="602.8" stroke="#3a4149" stroke-width="0.8"/>
<rect x="752" y="603" width="136" height="2.5" fill="#a49470"/>
<circle cx="753" cy="604.5" r="2" fill="#2a1a10"/>
<circle cx="887.5" cy="604.5" r="2" fill="#2a1a10"/>
<g stroke="#151515" stroke-width="2.8" stroke-linecap="round" fill="none">
  <path d="M820 404.5 L836.5 385"/>
  <path d="M674.5 622 Q686 621 698.5 619"/>
  <path d="M946 623.5 Q956 626 967 631"/>
</g>

<!-- circle 2 -->
<circle cx="828.3" cy="982.5" r="174" fill="url(#ring1)"/>
<circle cx="828.3" cy="982.5" r="174" fill="url(#ringHi2)"/>
<circle cx="828.3" cy="982.5" r="174" fill="url(#ringHi)"/>
<circle cx="828.3" cy="982.5" r="174" fill="url(#ringDk)"/>
<g clip-path="url(#clipC2)">
<path d="M660 1023 Q690 1024 712 1030" stroke="#6a3020" stroke-width="1.2" fill="none" opacity="0.55"/>
<path d="M662 1026 Q690 1028 710 1034 L716 1045 Q690 1034 664 1032 Z" fill="#b87058" opacity="0.35"/>
<path d="M695 1055 Q706 1048 714 1040" stroke="#5a2818" stroke-width="1.3" fill="none" opacity="0.7"/>
<path d="M997 1015 Q975 1040 957 1060" stroke="#6a3020" stroke-width="1.2" fill="none" opacity="0.55"/>
<path d="M999 1022 Q978 1046 963 1064 L971 1066 Q985 1050 1000 1032 Z" fill="#c07a60" opacity="0.3"/>
<path d="M825 830 Q830 845 832 862" stroke="#5a2818" stroke-width="1.1" fill="none" opacity="0.55"/>
<path d="M842 812 Q856 830 862 864" stroke="#b06a50" stroke-width="2" fill="none" opacity="0.5"/>
</g>
<circle cx="825" cy="982.5" r="120" fill="url(#inner1)" filter="url(#speck)"/>
<path d="M719 926 A120 120 0 0 1 887 880" stroke="#5a2a1c" stroke-width="1.2" fill="none" opacity="0.45"/>
<circle cx="825" cy="982.5" r="121" fill="none" stroke="#6a2814" stroke-width="1.5" opacity="0.5"/>
<circle cx="825" cy="982.5" r="119.5" fill="none" stroke="#e0907a" stroke-width="1.4" opacity="0.75"/>
<rect x="740" y="895.8" width="171" height="171" rx="7" fill="#6e3018"/>
<rect x="742" y="895.8" width="169" height="168" rx="6" fill="#c26c40"/>
<rect x="742.5" y="900" width="165" height="163" rx="4" fill="#ae5224"/>
<rect x="764.2" y="923.7" width="23.3" height="114.6" fill="#121519"/>
<line x1="768.1" y1="923.7" x2="768.1" y2="1038.3" stroke="#3a4149" stroke-width="0.8"/>
<line x1="772.0" y1="923.7" x2="772.0" y2="1038.3" stroke="#3a4149" stroke-width="0.8"/>
<line x1="775.9" y1="923.7" x2="775.9" y2="1038.3" stroke="#3a4149" stroke-width="0.8"/>
<line x1="779.7" y1="923.7" x2="779.7" y2="1038.3" stroke="#3a4149" stroke-width="0.8"/>
<line x1="783.6" y1="923.7" x2="783.6" y2="1038.3" stroke="#3a4149" stroke-width="0.8"/>
<rect x="798.3" y="923.7" width="23.3" height="114.6" fill="#121519"/>
<line x1="802.2" y1="923.7" x2="802.2" y2="1038.3" stroke="#3a4149" stroke-width="0.8"/>
<line x1="806.1" y1="923.7" x2="806.1" y2="1038.3" stroke="#3a4149" stroke-width="0.8"/>
<line x1="809.9" y1="923.7" x2="809.9" y2="1038.3" stroke="#3a4149" stroke-width="0.8"/>
<line x1="813.8" y1="923.7" x2="813.8" y2="1038.3" stroke="#3a4149" stroke-width="0.8"/>
<line x1="817.7" y1="923.7" x2="817.7" y2="1038.3" stroke="#3a4149" stroke-width="0.8"/>
<rect x="829.5" y="923.7" width="23.3" height="114.6" fill="#121519"/>
<line x1="833.4" y1="923.7" x2="833.4" y2="1038.3" stroke="#3a4149" stroke-width="0.8"/>
<line x1="837.3" y1="923.7" x2="837.3" y2="1038.3" stroke="#3a4149" stroke-width="0.8"/>
<line x1="841.1" y1="923.7" x2="841.1" y2="1038.3" stroke="#3a4149" stroke-width="0.8"/>
<line x1="845.0" y1="923.7" x2="845.0" y2="1038.3" stroke="#3a4149" stroke-width="0.8"/>
<line x1="848.9" y1="923.7" x2="848.9" y2="1038.3" stroke="#3a4149" stroke-width="0.8"/>
<rect x="862" y="923.7" width="23.3" height="114.6" fill="#121519"/>
<line x1="865.9" y1="923.7" x2="865.9" y2="1038.3" stroke="#3a4149" stroke-width="0.8"/>
<line x1="869.8" y1="923.7" x2="869.8" y2="1038.3" stroke="#3a4149" stroke-width="0.8"/>
<line x1="873.6" y1="923.7" x2="873.6" y2="1038.3" stroke="#3a4149" stroke-width="0.8"/>
<line x1="877.5" y1="923.7" x2="877.5" y2="1038.3" stroke="#3a4149" stroke-width="0.8"/>
<line x1="881.4" y1="923.7" x2="881.4" y2="1038.3" stroke="#3a4149" stroke-width="0.8"/>
<rect x="752" y="1039.5" width="143" height="2.5" fill="#a49470"/>
<circle cx="753" cy="1041" r="2" fill="#2a1a10"/>
<circle cx="894.5" cy="1041" r="2" fill="#2a1a10"/>
<g stroke="#151515" stroke-width="2.8" stroke-linecap="round" fill="none">
  <path d="M825 830 L840 811.7"/>
  <path d="M671.7 1058 Q684 1057 695 1055"/>
  <path d="M956.7 1060 Q967 1063 978 1066.7"/>
</g>

<!-- droplets -->
<g>
<ellipse cx="715.0" cy="928.4" rx="18.3" ry="21.6" fill="url(#dropG)"/>
<ellipse cx="711.3" cy="922.9" rx="4.0" ry="7.6" fill="#ffffff" fill-opacity="0.8"/>
<path d="M704.9 941.3 Q718.7 948.9 728.7 934.8" stroke="#ffe8dc" stroke-opacity="0.45" stroke-width="3.3" fill="none"/>
<ellipse cx="745.5" cy="962.5" rx="7.5" ry="14.5" fill="url(#dropG)"/>
<ellipse cx="744.0" cy="958.9" rx="1.6" ry="5.1" fill="#ffffff" fill-opacity="0.8"/>
<path d="M741.4 971.2 Q747.0 976.3 751.1 966.9" stroke="#ffe8dc" stroke-opacity="0.45" stroke-width="1.3" fill="none"/>
<ellipse cx="671.0" cy="967.5" rx="6.0" ry="7.5" fill="url(#dropG)"/>
<ellipse cx="669.8" cy="965.6" rx="1.3" ry="2.6" fill="#ffffff" fill-opacity="0.8"/>
<path d="M667.7 972.0 Q672.2 974.6 675.5 969.8" stroke="#ffe8dc" stroke-opacity="0.45" stroke-width="1.1" fill="none"/>
<ellipse cx="682.5" cy="980.5" rx="3.5" ry="7.5" fill="url(#dropG)"/>
<ellipse cx="681.8" cy="978.6" rx="0.8" ry="2.6" fill="#ffffff" fill-opacity="0.8"/>
<path d="M680.6 985.0 Q683.2 987.6 685.1 982.8" stroke="#ffe8dc" stroke-opacity="0.45" stroke-width="0.7" fill="none"/>
<ellipse cx="689.2" cy="927.0" rx="3.2" ry="5.0" fill="url(#dropG)"/>
<ellipse cx="688.6" cy="925.8" rx="0.7" ry="1.8" fill="#ffffff" fill-opacity="0.8"/>
<path d="M687.5 930.0 Q689.9 931.8 691.7 928.5" stroke="#ffe8dc" stroke-opacity="0.45" stroke-width="0.7" fill="none"/>
<ellipse cx="801.5" cy="903.5" rx="6.5" ry="4.5" fill="url(#dropG)"/>
<ellipse cx="800.2" cy="902.4" rx="1.4" ry="1.6" fill="#ffffff" fill-opacity="0.8"/>
<path d="M797.9 906.2 Q802.8 907.8 806.4 904.9" stroke="#ffe8dc" stroke-opacity="0.45" stroke-width="0.8" fill="none"/>
<ellipse cx="801.0" cy="926.0" rx="11.0" ry="11.0" fill="url(#dropG)"/>
<ellipse cx="798.8" cy="923.2" rx="2.4" ry="3.8" fill="#ffffff" fill-opacity="0.8"/>
<path d="M795.0 932.6 Q803.2 936.5 809.2 929.3" stroke="#ffe8dc" stroke-opacity="0.45" stroke-width="2.0" fill="none"/>
<ellipse cx="836.0" cy="884.0" rx="7.0" ry="6.0" fill="url(#dropG)"/>
<ellipse cx="834.6" cy="882.5" rx="1.5" ry="2.1" fill="#ffffff" fill-opacity="0.8"/>
<path d="M832.1 887.6 Q837.4 889.7 841.2 885.8" stroke="#ffe8dc" stroke-opacity="0.45" stroke-width="1.1" fill="none"/>
<ellipse cx="843.0" cy="848.5" rx="7.0" ry="6.5" fill="url(#dropG)"/>
<ellipse cx="841.6" cy="846.9" rx="1.5" ry="2.3" fill="#ffffff" fill-opacity="0.8"/>
<path d="M839.1 852.4 Q844.4 854.7 848.2 850.5" stroke="#ffe8dc" stroke-opacity="0.45" stroke-width="1.2" fill="none"/>
<ellipse cx="816.5" cy="935.0" rx="3.5" ry="3.0" fill="url(#dropG)"/>
<ellipse cx="815.8" cy="934.2" rx="0.8" ry="1.0" fill="#ffffff" fill-opacity="0.8"/>
<path d="M814.6 936.8 Q817.2 937.9 819.1 935.9" stroke="#ffe8dc" stroke-opacity="0.45" stroke-width="0.7" fill="none"/>
<ellipse cx="852.5" cy="849.5" rx="6.5" ry="4.5" fill="url(#dropG)"/>
<ellipse cx="851.2" cy="848.4" rx="1.4" ry="1.6" fill="#ffffff" fill-opacity="0.8"/>
<path d="M848.9 852.2 Q853.8 853.8 857.4 850.9" stroke="#ffe8dc" stroke-opacity="0.45" stroke-width="0.8" fill="none"/>
<ellipse cx="921.0" cy="853.5" rx="9.0" ry="6.5" fill="url(#dropG)"/>
<ellipse cx="919.2" cy="851.9" rx="2.0" ry="2.3" fill="#ffffff" fill-opacity="0.8"/>
<path d="M916.0 857.4 Q922.8 859.7 927.8 855.5" stroke="#ffe8dc" stroke-opacity="0.45" stroke-width="1.2" fill="none"/>
<ellipse cx="902.0" cy="877.5" rx="6.0" ry="5.5" fill="url(#dropG)"/>
<ellipse cx="900.8" cy="876.1" rx="1.3" ry="1.9" fill="#ffffff" fill-opacity="0.8"/>
<path d="M898.7 880.8 Q903.2 882.7 906.5 879.1" stroke="#ffe8dc" stroke-opacity="0.45" stroke-width="1.0" fill="none"/>
<ellipse cx="898.0" cy="961.0" rx="10.0" ry="16.0" fill="url(#dropG)"/>
<ellipse cx="896.0" cy="957.0" rx="2.2" ry="5.6" fill="#ffffff" fill-opacity="0.8"/>
<path d="M892.5 970.6 Q900.0 976.2 905.5 965.8" stroke="#ffe8dc" stroke-opacity="0.45" stroke-width="1.8" fill="none"/>
<ellipse cx="970.0" cy="931.5" rx="8.0" ry="13.5" fill="url(#dropG)"/>
<ellipse cx="968.4" cy="928.1" rx="1.8" ry="4.7" fill="#ffffff" fill-opacity="0.8"/>
<path d="M965.6 939.6 Q971.6 944.3 976.0 935.5" stroke="#ffe8dc" stroke-opacity="0.45" stroke-width="1.4" fill="none"/>
<ellipse cx="727.5" cy="996.5" rx="9.5" ry="13.5" fill="url(#dropG)"/>
<ellipse cx="725.6" cy="993.1" rx="2.1" ry="4.7" fill="#ffffff" fill-opacity="0.8"/>
<path d="M722.3 1004.6 Q729.4 1009.3 734.6 1000.5" stroke="#ffe8dc" stroke-opacity="0.45" stroke-width="1.7" fill="none"/>
<ellipse cx="767.5" cy="1039.0" rx="9.5" ry="16.0" fill="url(#dropG)"/>
<ellipse cx="765.6" cy="1035.0" rx="2.1" ry="5.6" fill="#ffffff" fill-opacity="0.8"/>
<path d="M762.3 1048.6 Q769.4 1054.2 774.6 1043.8" stroke="#ffe8dc" stroke-opacity="0.45" stroke-width="1.7" fill="none"/>
<ellipse cx="707.0" cy="1083.0" rx="4.0" ry="5.0" fill="url(#dropG)"/>
<ellipse cx="706.2" cy="1081.8" rx="0.9" ry="1.8" fill="#ffffff" fill-opacity="0.8"/>
<path d="M704.8 1086.0 Q707.8 1087.8 710.0 1084.5" stroke="#ffe8dc" stroke-opacity="0.45" stroke-width="0.7" fill="none"/>
<ellipse cx="713.0" cy="1096.5" rx="5.0" ry="6.5" fill="url(#dropG)"/>
<ellipse cx="712.0" cy="1094.9" rx="1.1" ry="2.3" fill="#ffffff" fill-opacity="0.8"/>
<path d="M710.2 1100.4 Q714.0 1102.7 716.8 1098.5" stroke="#ffe8dc" stroke-opacity="0.45" stroke-width="0.9" fill="none"/>
<ellipse cx="736.0" cy="1102.5" rx="6.0" ry="7.5" fill="url(#dropG)"/>
<ellipse cx="734.8" cy="1100.6" rx="1.3" ry="2.6" fill="#ffffff" fill-opacity="0.8"/>
<path d="M732.7 1107.0 Q737.2 1109.6 740.5 1104.8" stroke="#ffe8dc" stroke-opacity="0.45" stroke-width="1.1" fill="none"/>
<ellipse cx="772.5" cy="1090.0" rx="4.5" ry="7.0" fill="url(#dropG)"/>
<ellipse cx="771.6" cy="1088.2" rx="1.0" ry="2.4" fill="#ffffff" fill-opacity="0.8"/>
<path d="M770.0 1094.2 Q773.4 1096.7 775.9 1092.1" stroke="#ffe8dc" stroke-opacity="0.45" stroke-width="0.8" fill="none"/>
<ellipse cx="789.0" cy="1090.0" rx="6.0" ry="7.0" fill="url(#dropG)"/>
<ellipse cx="787.8" cy="1088.2" rx="1.3" ry="2.4" fill="#ffffff" fill-opacity="0.8"/>
<path d="M785.7 1094.2 Q790.2 1096.7 793.5 1092.1" stroke="#ffe8dc" stroke-opacity="0.45" stroke-width="1.1" fill="none"/>
<ellipse cx="789.0" cy="1125.5" rx="6.0" ry="7.5" fill="url(#dropG)"/>
<ellipse cx="787.8" cy="1123.6" rx="1.3" ry="2.6" fill="#ffffff" fill-opacity="0.8"/>
<path d="M785.7 1130.0 Q790.2 1132.6 793.5 1127.8" stroke="#ffe8dc" stroke-opacity="0.45" stroke-width="1.1" fill="none"/>
<ellipse cx="840.0" cy="1061.0" rx="8.0" ry="11.0" fill="url(#dropG)"/>
<ellipse cx="838.4" cy="1058.2" rx="1.8" ry="3.8" fill="#ffffff" fill-opacity="0.8"/>
<path d="M835.6 1067.6 Q841.6 1071.5 846.0 1064.3" stroke="#ffe8dc" stroke-opacity="0.45" stroke-width="1.4" fill="none"/>
<ellipse cx="809.5" cy="1010.0" rx="7.5" ry="8.0" fill="url(#dropG)"/>
<ellipse cx="808.0" cy="1008.0" rx="1.6" ry="2.8" fill="#ffffff" fill-opacity="0.8"/>
<path d="M805.4 1014.8 Q811.0 1017.6 815.1 1012.4" stroke="#ffe8dc" stroke-opacity="0.45" stroke-width="1.3" fill="none"/>
<ellipse cx="774.5" cy="1006.5" rx="7.5" ry="8.5" fill="url(#dropG)"/>
<ellipse cx="773.0" cy="1004.4" rx="1.6" ry="3.0" fill="#ffffff" fill-opacity="0.8"/>
<path d="M770.4 1011.6 Q776.0 1014.6 780.1 1009.0" stroke="#ffe8dc" stroke-opacity="0.45" stroke-width="1.3" fill="none"/>
<ellipse cx="875.0" cy="1047.0" rx="8.0" ry="5.0" fill="url(#dropG)"/>
<ellipse cx="873.4" cy="1045.8" rx="1.8" ry="1.8" fill="#ffffff" fill-opacity="0.8"/>
<path d="M870.6 1050.0 Q876.6 1051.8 881.0 1048.5" stroke="#ffe8dc" stroke-opacity="0.45" stroke-width="0.9" fill="none"/>
<ellipse cx="897.5" cy="1062.0" rx="5.5" ry="5.0" fill="url(#dropG)"/>
<ellipse cx="896.4" cy="1060.8" rx="1.2" ry="1.8" fill="#ffffff" fill-opacity="0.8"/>
<path d="M894.5 1065.0 Q898.6 1066.8 901.6 1063.5" stroke="#ffe8dc" stroke-opacity="0.45" stroke-width="0.9" fill="none"/>
<ellipse cx="932.5" cy="1050.5" rx="7.5" ry="7.5" fill="url(#dropG)"/>
<ellipse cx="931.0" cy="1048.6" rx="1.6" ry="2.6" fill="#ffffff" fill-opacity="0.8"/>
<path d="M928.4 1055.0 Q934.0 1057.6 938.1 1052.8" stroke="#ffe8dc" stroke-opacity="0.45" stroke-width="1.3" fill="none"/>
<ellipse cx="907.5" cy="1076.0" rx="4.5" ry="6.0" fill="url(#dropG)"/>
<ellipse cx="906.6" cy="1074.5" rx="1.0" ry="2.1" fill="#ffffff" fill-opacity="0.8"/>
<path d="M905.0 1079.6 Q908.4 1081.7 910.9 1077.8" stroke="#ffe8dc" stroke-opacity="0.45" stroke-width="0.8" fill="none"/>
<ellipse cx="896.0" cy="1087.0" rx="4.0" ry="5.0" fill="url(#dropG)"/>
<ellipse cx="895.2" cy="1085.8" rx="0.9" ry="1.8" fill="#ffffff" fill-opacity="0.8"/>
<path d="M893.8 1090.0 Q896.8 1091.8 899.0 1088.5" stroke="#ffe8dc" stroke-opacity="0.45" stroke-width="0.7" fill="none"/>
<ellipse cx="884.5" cy="1100.0" rx="5.5" ry="10.0" fill="url(#dropG)"/>
<ellipse cx="883.4" cy="1097.5" rx="1.2" ry="3.5" fill="#ffffff" fill-opacity="0.8"/>
<path d="M881.5 1106.0 Q885.6 1109.5 888.6 1103.0" stroke="#ffe8dc" stroke-opacity="0.45" stroke-width="1.0" fill="none"/>
<ellipse cx="932.5" cy="1084.0" rx="4.5" ry="4.0" fill="url(#dropG)"/>
<ellipse cx="931.6" cy="1083.0" rx="1.0" ry="1.4" fill="#ffffff" fill-opacity="0.8"/>
<path d="M930.0 1086.4 Q933.4 1087.8 935.9 1085.2" stroke="#ffe8dc" stroke-opacity="0.45" stroke-width="0.7" fill="none"/>
<ellipse cx="845.0" cy="994.0" rx="8.0" ry="6.0" fill="url(#dropG)"/>
<ellipse cx="843.4" cy="992.5" rx="1.8" ry="2.1" fill="#ffffff" fill-opacity="0.8"/>
<path d="M840.6 997.6 Q846.6 999.7 851.0 995.8" stroke="#ffe8dc" stroke-opacity="0.45" stroke-width="1.1" fill="none"/>
</g>

<!-- water drops icon -->
<path d="M670.8 724 C666 740 654.6 752 654.6 767 C654.6 776 661 782.5 668.5 782.5 C676 782.5 682 776 682 767 C682 752 675 740 670.8 724 Z" fill="url(#drop)" stroke="url(#dropS)" stroke-width="0.8"/>
<path d="M691.8 739 C689 751 681.5 759 681.5 770 C681.5 777 686 781.6 691.8 781.6 C697.5 781.6 702 777 702 770 C702 759 695 751 691.8 739 Z" fill="url(#drop)" stroke="url(#dropS)" stroke-width="0.8"/>
</svg>

<div class="t" style="left:619.7px;top:85px;font-size:33px;-webkit-text-stroke:1.4px #0a0a0a;transform:scaleX(1.0083);transform-origin:0 0">10 hours</div>
<div class="t" style="left:764.8px;top:85px;font-size:33px;-webkit-text-stroke:1.4px #0a0a0a;transform:scaleX(1.0381);transform-origin:0 0">of continuous use</div>
<div class="t" style="left:696.5px;top:132px;font-size:33px;-webkit-text-stroke:1.4px #0a0a0a;transform:scaleX(1.0662);transform-origin:0 0">after fully charged</div>
<div class="t" style="left:721px;top:748px;font-size:33.5px;-webkit-text-stroke:1.4px #0a0a0a;transform:scaleX(0.961);transform-origin:0 0">IP65 WATER-PROOF</div>
</body></html>
